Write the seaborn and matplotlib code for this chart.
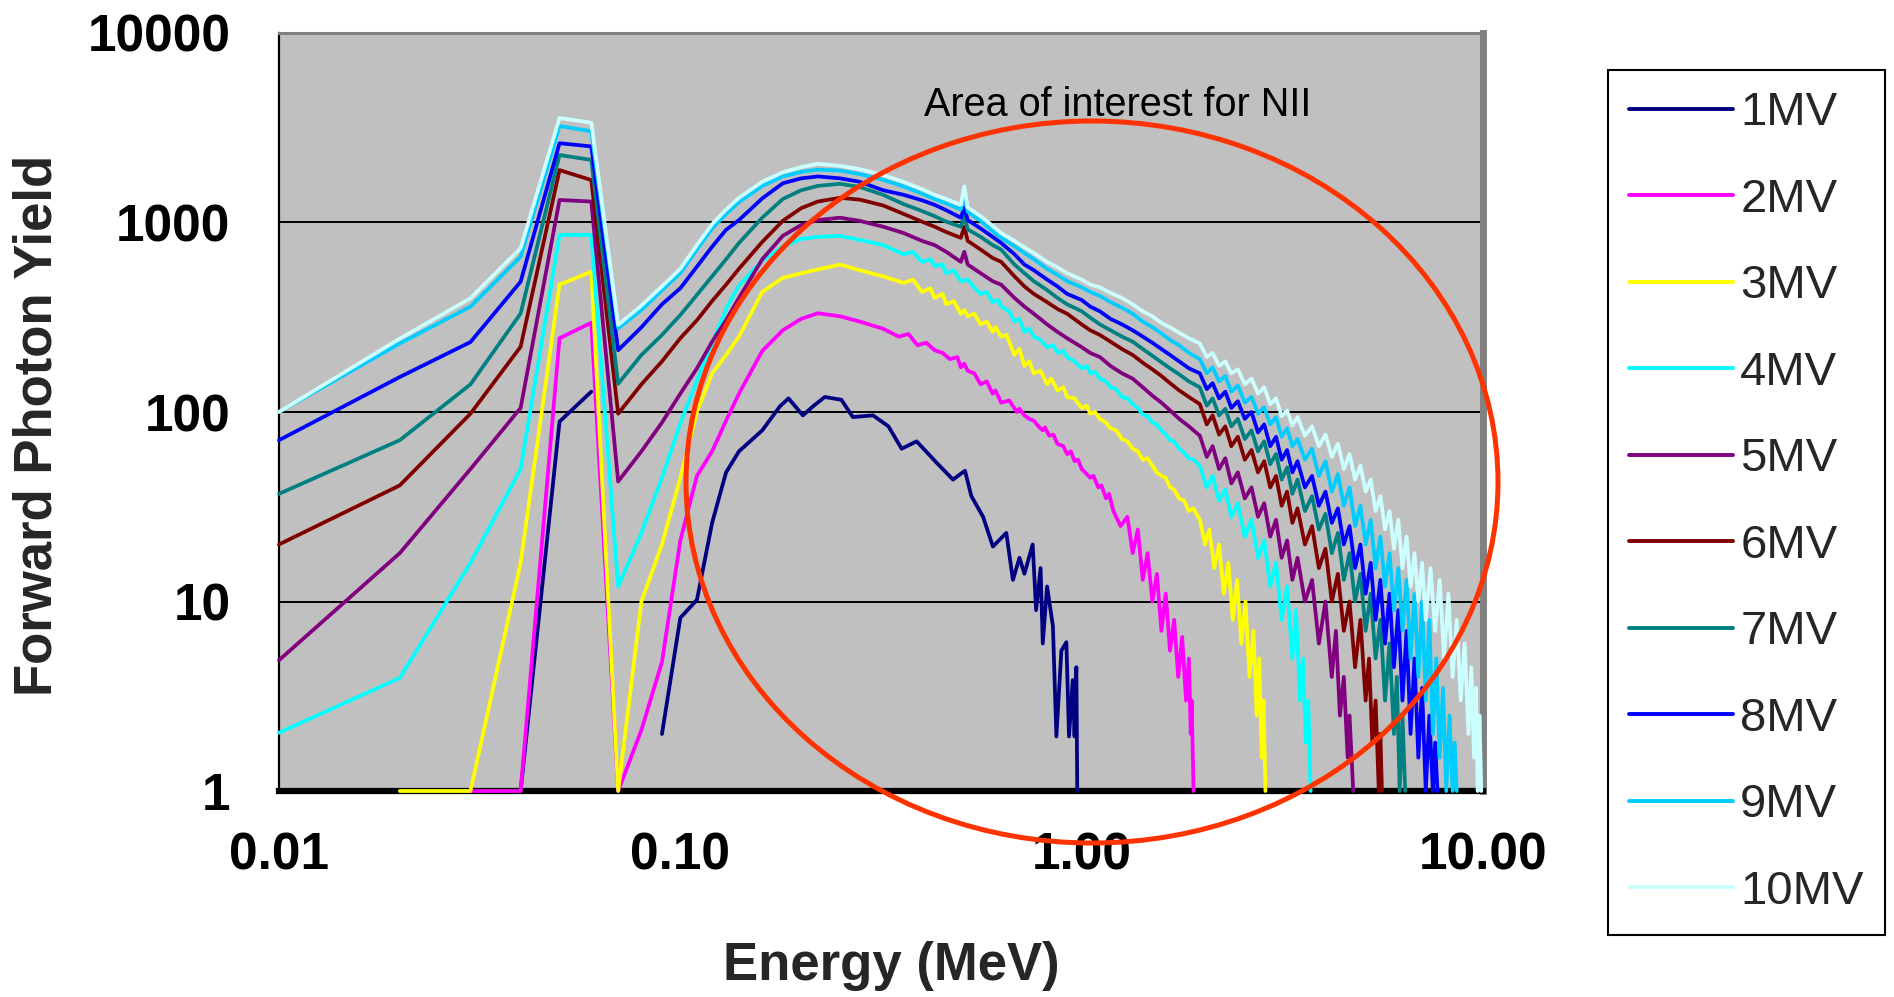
import numpy as np
import pandas as pd
import matplotlib
matplotlib.use("Agg")
import matplotlib.pyplot as plt
import seaborn as sns
from matplotlib.patches import Ellipse
from matplotlib.lines import Line2D
from matplotlib.ticker import NullLocator

# ---------------- data ----------------
series_names = ["1MV", "2MV", "3MV", "4MV", "5MV", "6MV", "7MV", "8MV", "9MV", "10MV"]
series_colors = ["#000080", "#FF00FF", "#FFFF00", "#00FFFF", "#800080",
                 "#800000", "#008080", "#0000FF", "#00CCFF", "#CCFFFF"]

x_ticks = [0.01, 0.1, 1, 10]
x_tick_labels = ["0.01", "0.10", "1.00", "10.00"]
y_ticks = [1, 10, 100, 1000, 10000]
y_tick_labels = ["1", "10", "100", "1000", "10000"]

# (energy MeV, forward photon yield)
mv1_low = [(0.04, 1), (0.05, 89), (0.06, 128)]
mv1_high = [(0.09, 2.0), (0.10, 8.2), (0.11, 10.2), (0.12, 26), (0.13, 48), (0.14, 62), (0.16, 80),
            (0.177, 107), (0.186, 118), (0.202, 96), (0.214, 107), (0.229, 120), (0.252, 116),
            (0.269, 94), (0.302, 96), (0.33, 84), (0.356, 64), (0.388, 70), (0.435, 54), (0.478, 44),
            (0.512, 49), (0.531, 36), (0.568, 28), (0.601, 19.5), (0.649, 23), (0.674, 13), (0.70, 17),
            (0.72, 14), (0.755, 20), (0.77, 9), (0.79, 15), (0.80, 6), (0.82, 12), (0.848, 7.4),
            (0.865, 1.94), (0.89, 5.5), (0.916, 6.1), (0.93, 1.94), (0.95, 3.85), (0.96, 1.94),
            (0.97, 4.5), (0.975, 1)]

mv2 = [(0.03, 1), (0.04, 1), (0.05, 245), (0.06, 296), (0.07, 1),
       (0.08, 2.1), (0.09, 4.8), (0.10, 21), (0.11, 46), (0.12, 62), (0.13, 90), (0.14, 125),
       (0.16, 210), (0.18, 270), (0.20, 310), (0.22, 332), (0.25, 320), (0.28, 300), (0.32, 275),
       (0.35, 250), (0.37, 258), (0.39, 225), (0.41, 232), (0.43, 212), (0.45, 205), (0.47, 190),
       (0.49, 195), (0.50, 172), (0.51, 180), (0.52, 165), (0.54, 160), (0.56, 140), (0.58, 145),
       (0.60, 125), (0.61, 130), (0.63, 112), (0.66, 115), (0.69, 100), (0.70, 104), (0.72, 96),
       (0.74, 92), (0.76, 90), (0.78, 84), (0.80, 80), (0.81, 83), (0.83, 75), (0.85, 76),
       (0.87, 68), (0.90, 66), (0.92, 60), (0.94, 62), (0.96, 55), (0.98, 56), (1.0, 50),
       (1.02, 48), (1.05, 45), (1.07, 46), (1.1, 40), (1.12, 41), (1.15, 35), (1.17, 37), (1.2, 30),
       (1.25, 25), (1.3, 28), (1.34, 18), (1.38, 24), (1.42, 13), (1.46, 18), (1.5, 10), (1.54, 14),
       (1.58, 7), (1.62, 11), (1.66, 5.5), (1.7, 8), (1.74, 4), (1.78, 6.5), (1.82, 3), (1.85, 5),
       (1.87, 2), (1.88, 3), (1.9, 1)]

mv3 = [(0.02, 1), (0.03, 1), (0.04, 16), (0.05, 470), (0.06, 550), (0.07, 1),
       (0.08, 10), (0.09, 20), (0.10, 45), (0.11, 100), (0.12, 160), (0.13, 200), (0.14, 250),
       (0.16, 430), (0.18, 510), (0.20, 540), (0.22, 565), (0.25, 600), (0.28, 560), (0.32, 520),
       (0.36, 480), (0.38, 500), (0.40, 430), (0.42, 450), (0.43, 400), (0.45, 420), (0.46, 370),
       (0.48, 385), (0.50, 330), (0.51, 345), (0.52, 320), (0.54, 330), (0.56, 290), (0.58, 300),
       (0.60, 265), (0.61, 280), (0.63, 250), (0.65, 255), (0.68, 200), (0.70, 215), (0.72, 175),
       (0.74, 185), (0.76, 160), (0.79, 165), (0.82, 140), (0.84, 150), (0.87, 130), (0.90, 135),
       (0.92, 120), (0.96, 118), (1.0, 105), (1.03, 108), (1.05, 98), (1.08, 100), (1.11, 92),
       (1.15, 88), (1.18, 82), (1.22, 80), (1.26, 72), (1.30, 70), (1.34, 64), (1.38, 62),
       (1.42, 56), (1.46, 57), (1.50, 52), (1.54, 48), (1.58, 46), (1.62, 45), (1.66, 40),
       (1.70, 39), (1.75, 35), (1.80, 34), (1.85, 30), (1.90, 31), (1.97, 27),
       (2.03, 20), (2.08, 24), (2.14, 15), (2.2, 20), (2.26, 11), (2.32, 16), (2.38, 8), (2.44, 13),
       (2.5, 6), (2.56, 10), (2.62, 4), (2.68, 7), (2.73, 2.5), (2.77, 5), (2.81, 1.5), (2.84, 3),
       (2.87, 1)]

mv4 = [(0.01, 2.03), (0.02, 3.95), (0.03, 16), (0.04, 50), (0.05, 860), (0.06, 860), (0.07, 12),
       (0.08, 23), (0.09, 45), (0.10, 87), (0.11, 147), (0.12, 230), (0.13, 350), (0.14, 465),
       (0.16, 630), (0.18, 745), (0.20, 820), (0.22, 840), (0.25, 850), (0.28, 810), (0.32, 760),
       (0.36, 680), (0.38, 700), (0.40, 620), (0.42, 640), (0.43, 590), (0.45, 600), (0.46, 540),
       (0.48, 560), (0.50, 490), (0.52, 500), (0.54, 455), (0.56, 420), (0.58, 430), (0.60, 380),
       (0.62, 390), (0.63, 360), (0.66, 340), (0.68, 300), (0.70, 310), (0.72, 265), (0.74, 275),
       (0.76, 250), (0.79, 240), (0.82, 220), (0.85, 225), (0.87, 205), (0.90, 210), (0.92, 195),
       (0.96, 185), (1.0, 170), (1.03, 175), (1.05, 160), (1.08, 163), (1.11, 150), (1.15, 145),
       (1.18, 135), (1.22, 132), (1.26, 120), (1.30, 118), (1.34, 110), (1.38, 105), (1.42, 97),
       (1.46, 95), (1.50, 88), (1.54, 86), (1.58, 80), (1.62, 76), (1.66, 71), (1.70, 70),
       (1.75, 64), (1.80, 61), (1.85, 57), (1.90, 56), (1.97, 52),
       (2.05, 40), (2.12, 46), (2.2, 34), (2.28, 39), (2.36, 28), (2.45, 33), (2.55, 22), (2.65, 27),
       (2.75, 17), (2.85, 21), (2.95, 12), (3.05, 16), (3.15, 8), (3.25, 12), (3.35, 5), (3.42, 9),
       (3.5, 3), (3.56, 5), (3.62, 1.8), (3.67, 3), (3.72, 1)]

mv5 = [(0.01, 4.9), (0.02, 18), (0.03, 50), (0.04, 105), (0.05, 1315), (0.06, 1290), (0.07, 43),
       (0.08, 62), (0.09, 88), (0.10, 125), (0.11, 170), (0.12, 235), (0.13, 305), (0.14, 400),
       (0.16, 640), (0.18, 850), (0.20, 970), (0.22, 1030), (0.25, 1060), (0.28, 1020), (0.32, 950),
       (0.36, 880), (0.40, 800), (0.43, 760), (0.46, 700), (0.50, 620), (0.51, 700), (0.52, 600),
       (0.56, 540), (0.60, 490), (0.63, 470), (0.68, 400), (0.72, 360), (0.76, 330), (0.82, 290),
       (0.87, 265), (0.92, 245), (1.0, 220), (1.05, 205), (1.11, 195), (1.18, 175), (1.26, 160),
       (1.34, 150), (1.42, 135), (1.50, 122), (1.58, 112), (1.66, 102), (1.75, 92), (1.85, 84),
       (1.97, 75), (2.05, 58), (2.12, 66), (2.2, 50), (2.28, 57), (2.36, 42), (2.45, 48), (2.55, 35),
       (2.65, 40), (2.75, 28), (2.85, 33), (2.95, 22), (3.05, 27), (3.15, 17), (3.25, 21), (3.35, 13),
       (3.45, 17), (3.6, 10), (3.75, 13), (3.9, 6), (4.05, 10), (4.2, 4), (4.3, 7), (4.4, 2.5),
       (4.5, 4), (4.6, 1.5), (4.65, 2.5), (4.75, 1)]

mv6 = [(0.01, 20), (0.02, 41), (0.03, 98), (0.04, 221), (0.05, 1890), (0.06, 1675), (0.07, 98),
       (0.08, 140), (0.09, 185), (0.10, 245), (0.11, 305), (0.12, 385), (0.13, 470), (0.14, 570),
       (0.16, 790), (0.18, 1020), (0.20, 1190), (0.22, 1290), (0.25, 1350), (0.28, 1320), (0.32, 1230),
       (0.36, 1110), (0.40, 1010), (0.43, 950), (0.46, 890), (0.50, 830), (0.51, 950), (0.52, 800),
       (0.56, 720), (0.60, 650), (0.63, 620), (0.68, 520), (0.72, 460), (0.76, 420), (0.82, 380),
       (0.87, 350), (0.92, 330), (1.0, 290), (1.05, 270), (1.11, 255), (1.18, 235), (1.26, 215),
       (1.34, 200), (1.42, 182), (1.50, 168), (1.58, 155), (1.66, 142), (1.75, 130), (1.85, 120),
       (1.97, 110), (2.05, 86), (2.12, 96), (2.2, 76), (2.28, 84), (2.36, 66), (2.45, 74), (2.55, 56),
       (2.65, 63), (2.75, 48), (2.85, 55), (2.95, 40), (3.05, 46), (3.15, 32), (3.25, 38), (3.35, 26),
       (3.45, 31), (3.6, 20), (3.75, 25), (3.9, 15), (4.05, 19), (4.2, 10), (4.35, 14), (4.5, 7),
       (4.65, 10), (4.8, 4.5), (4.95, 8), (5.1, 3), (5.2, 5), (5.3, 1.8), (5.4, 3), (5.5, 1),
       (5.55, 2), (5.6, 1)]

mv7 = [(0.01, 37), (0.02, 71), (0.03, 140), (0.04, 331), (0.05, 2270), (0.06, 2140), (0.07, 141),
       (0.08, 200), (0.09, 255), (0.10, 325), (0.11, 415), (0.12, 520), (0.13, 640), (0.14, 780),
       (0.16, 1060), (0.18, 1330), (0.20, 1480), (0.22, 1560), (0.25, 1600), (0.28, 1540), (0.32, 1400),
       (0.36, 1250), (0.40, 1150), (0.43, 1080), (0.46, 1010), (0.50, 950), (0.51, 1080), (0.52, 920),
       (0.56, 840), (0.60, 760), (0.63, 720), (0.68, 600), (0.72, 540), (0.76, 490), (0.82, 440),
       (0.87, 400), (0.92, 370), (1.0, 340), (1.05, 315), (1.11, 290), (1.18, 270), (1.26, 250),
       (1.34, 235), (1.42, 215), (1.50, 198), (1.58, 183), (1.66, 170), (1.75, 158), (1.85, 145),
       (1.97, 135), (2.05, 108), (2.12, 118), (2.2, 96), (2.28, 104), (2.36, 84), (2.45, 92),
       (2.55, 72), (2.65, 80), (2.75, 62), (2.85, 70), (2.95, 53), (3.05, 60), (3.15, 44), (3.25, 51),
       (3.35, 37), (3.45, 44), (3.6, 30), (3.75, 36), (3.9, 24), (4.05, 29), (4.2, 18), (4.35, 23),
       (4.5, 13), (4.65, 18), (4.8, 10), (4.95, 14), (5.1, 7), (5.25, 11), (5.4, 5), (5.55, 8),
       (5.7, 3), (5.85, 6), (6.0, 2), (6.1, 4), (6.2, 1), (6.3, 2.5), (6.4, 1)]

mv8 = [(0.01, 71), (0.02, 153), (0.03, 234), (0.04, 487), (0.05, 2620), (0.06, 2520), (0.07, 212),
       (0.08, 280), (0.09, 370), (0.10, 450), (0.11, 585), (0.12, 745), (0.13, 915), (0.14, 1030),
       (0.16, 1340), (0.18, 1610), (0.20, 1710), (0.22, 1750), (0.25, 1710), (0.28, 1640), (0.32, 1480),
       (0.36, 1400), (0.40, 1310), (0.43, 1240), (0.46, 1160), (0.50, 1060), (0.51, 1200), (0.52, 1030),
       (0.56, 930), (0.60, 840), (0.63, 780), (0.68, 680), (0.72, 600), (0.76, 560), (0.82, 500),
       (0.87, 460), (0.92, 420), (1.0, 390), (1.05, 360), (1.11, 340), (1.18, 310), (1.26, 290),
       (1.34, 270), (1.42, 250), (1.50, 232), (1.58, 215), (1.66, 200), (1.75, 185), (1.85, 170),
       (1.97, 160), (2.05, 132), (2.12, 142), (2.2, 118), (2.28, 128), (2.36, 105), (2.45, 114),
       (2.55, 92), (2.65, 100), (2.75, 78), (2.85, 86), (2.95, 66), (3.05, 74), (3.15, 56), (3.25, 63),
       (3.35, 48), (3.45, 55), (3.6, 40), (3.75, 46), (3.9, 32), (4.05, 38), (4.2, 26), (4.35, 31),
       (4.5, 20), (4.65, 25), (4.8, 15), (4.95, 20), (5.1, 11), (5.25, 16), (5.4, 8), (5.55, 13),
       (5.7, 6), (5.85, 11), (6.0, 4.5), (6.15, 9), (6.3, 3), (6.45, 7), (6.6, 2), (6.75, 5),
       (6.9, 1.5), (7.05, 3.5), (7.2, 1), (7.35, 2.5), (7.5, 1), (7.6, 1.8), (7.7, 1)]

mv9 = [(0.01, 100), (0.02, 230), (0.03, 360), (0.04, 660), (0.05, 3230), (0.06, 3030), (0.07, 277),
       (0.08, 345), (0.09, 440), (0.10, 540), (0.11, 720), (0.12, 930), (0.13, 1110), (0.14, 1280),
       (0.16, 1560), (0.18, 1750), (0.20, 1850), (0.22, 1900), (0.25, 1880), (0.28, 1800), (0.32, 1680),
       (0.36, 1550), (0.40, 1420), (0.43, 1330), (0.46, 1260), (0.50, 1170), (0.51, 1400), (0.52, 1140),
       (0.56, 1020), (0.60, 900), (0.63, 830), (0.68, 750), (0.72, 690), (0.76, 640), (0.82, 570),
       (0.87, 530), (0.92, 490), (1.0, 455), (1.05, 430), (1.11, 410), (1.18, 380), (1.26, 355),
       (1.34, 330), (1.42, 300), (1.50, 280), (1.58, 260), (1.66, 240), (1.75, 225), (1.85, 205),
       (1.97, 190), (2.05, 160), (2.12, 172), (2.2, 145), (2.28, 155), (2.36, 128), (2.45, 138),
       (2.55, 112), (2.65, 120), (2.75, 98), (2.85, 106), (2.95, 86), (3.05, 94), (3.15, 74), (3.25, 82),
       (3.35, 66), (3.45, 72), (3.6, 56), (3.75, 64), (3.9, 46), (4.05, 55), (4.2, 38), (4.35, 47),
       (4.5, 32), (4.65, 40), (4.8, 25), (4.95, 32), (5.1, 20), (5.25, 27), (5.4, 15), (5.55, 22),
       (5.7, 12), (5.85, 18), (6.0, 9), (6.15, 15), (6.3, 7), (6.45, 13), (6.6, 5), (6.75, 11),
       (6.9, 4), (7.05, 10), (7.2, 3), (7.35, 8), (7.5, 2), (7.65, 5), (7.8, 1.5), (7.95, 3.5),
       (8.1, 1), (8.25, 2.5), (8.4, 1), (8.5, 1.8), (8.6, 1)]

mv10 = [(0.01, 100), (0.02, 244), (0.03, 398), (0.04, 731), (0.05, 3560), (0.06, 3360), (0.07, 288),
        (0.08, 365), (0.09, 460), (0.10, 570), (0.11, 760), (0.12, 980), (0.13, 1170), (0.14, 1350),
        (0.16, 1640), (0.18, 1840), (0.20, 1960), (0.22, 2040), (0.25, 1990), (0.28, 1910), (0.32, 1780),
        (0.36, 1640), (0.40, 1500), (0.43, 1400), (0.46, 1330), (0.50, 1240), (0.51, 1550), (0.52, 1200),
        (0.56, 1080), (0.60, 960), (0.63, 880), (0.68, 800), (0.72, 740), (0.76, 690), (0.82, 620),
        (0.87, 580), (0.92, 540), (1.0, 500), (1.05, 470), (1.11, 455), (1.18, 425), (1.26, 400),
        (1.34, 370), (1.42, 340), (1.50, 320), (1.58, 295), (1.66, 280), (1.75, 262), (1.85, 245),
        (1.97, 230), (2.05, 195), (2.12, 205), (2.2, 175), (2.28, 185), (2.36, 160), (2.45, 168),
        (2.55, 140), (2.65, 150), (2.75, 125), (2.85, 135), (2.95, 110), (3.05, 118), (3.15, 95),
        (3.25, 102), (3.35, 85), (3.45, 94), (3.6, 75), (3.75, 84), (3.9, 66), (4.05, 76), (4.2, 58),
        (4.35, 68), (4.5, 50), (4.65, 60), (4.8, 44), (4.95, 52), (5.1, 38), (5.25, 44), (5.4, 30),
        (5.55, 36), (5.7, 24), (5.85, 30), (6.0, 19), (6.15, 27), (6.3, 15), (6.45, 22), (6.6, 12),
        (6.75, 18), (6.9, 10), (7.05, 16), (7.2, 8), (7.4, 15), (7.6, 7), (7.8, 13), (8.0, 5),
        (8.2, 11), (8.4, 4), (8.6, 8), (8.8, 3), (9.0, 6), (9.2, 2), (9.35, 4.5), (9.5, 1.5),
        (9.6, 3.5), (9.7, 1), (9.8, 2.5), (9.9, 1)]

series_segments = [[mv1_low, mv1_high], [mv2], [mv3], [mv4], [mv5],
                   [mv6], [mv7], [mv8], [mv9], [mv10]]

annotation_text = "Area of interest for NII"

# ---------------- build long table ----------------
rows = []
for name, segs in zip(series_names, series_segments):
    for k, seg in enumerate(segs):
        for e, v in seg:
            rows.append((name, f"{name}-{k}", e, v))
df = pd.DataFrame(rows, columns=["series", "segment", "energy", "yield"])

# ---------------- figure ----------------
sns.set_theme(style="white")
plt.rcParams["font.family"] = ["Liberation Sans", "DejaVu Sans"]

W, H = 1894, 997
fig = plt.figure(figsize=(W / 100, H / 100), dpi=100)
fig.patch.set_facecolor("white")
ax_l, ax_r, ax_t, ax_b = 279, 1483, 33, 791
ax = fig.add_axes([ax_l / W, 1 - ax_b / H, (ax_r - ax_l) / W, (ax_b - ax_t) / H])
ax.set_facecolor("#C0C0C0")
ax.set_xscale("log")
ax.set_yscale("log")

for name, color in zip(series_names, series_colors):
    sub = df[df["series"] == name]
    for seg_id, g in sub.groupby("segment", sort=False):
        sns.lineplot(data=g, x="energy", y="yield", color=color, lw=2.7,
                     sort=False, estimator=None, ax=ax, legend=False,
                     zorder=3, clip_on=False)

ax.set_xlim(0.01, 10)
ax.set_ylim(1, 10000)
ax.set_xticks(x_ticks)
ax.set_xticklabels(x_tick_labels)
ax.set_yticks(y_ticks)
ax.set_yticklabels(y_tick_labels)
ax.xaxis.set_minor_locator(NullLocator())
ax.yaxis.set_minor_locator(NullLocator())

ax.tick_params(axis="x", which="major", direction="out", length=13, width=3,
               color="black", pad=16, labelsize=37, labelcolor="black")
ax.tick_params(axis="y", which="major", direction="out", length=11, width=3,
               color="black", pad=24, labelsize=37, labelcolor="black")
for lab in ax.get_xticklabels() + ax.get_yticklabels():
    lab.set_fontweight("bold")

ax.set_axisbelow(True)
ax.yaxis.grid(True, color="black", lw=1.4)
ax.xaxis.grid(False)

ax.spines["left"].set(color="black", lw=1.6)
ax.spines["bottom"].set(color="black", lw=4.5)
ax.spines["top"].set(color="#808080", lw=2.2)
ax.spines["right"].set(color="#808080", lw=5)

ax.set_xlabel("Energy (MeV)", fontsize=38, fontweight="bold", va="center")
ax.set_ylabel("Forward Photon Yield", fontsize=38, fontweight="bold", va="center")
ax.xaxis.set_label_coords((891 - ax_l) / (ax_r - ax_l), (ax_b - 966) / (ax_b - ax_t))
ax.yaxis.set_label_coords((38 - ax_l) / (ax_r - ax_l), (ax_b - 425) / (ax_b - ax_t))

ax.text((1118 - ax_l) / (ax_r - ax_l), (ax_b - 105) / (ax_b - ax_t), annotation_text,
        transform=ax.transAxes, ha="center", va="center", fontsize=28.5, color="black")

ell = Ellipse((1092 / W, 1 - 482 / H), 812 / W, 722 / H, transform=fig.transFigure,
              fill=False, ec="#FF3300", lw=3.6, zorder=10, clip_on=False)
fig.add_artist(ell)

handles = [Line2D([], [], color=c, lw=2.8) for c in series_colors]
leg = fig.legend(handles, series_names, loc="upper left",
                 bbox_to_anchor=(1608 / W, 1 - 70 / H), bbox_transform=fig.transFigure,
                 frameon=True, fancybox=False, edgecolor="black", facecolor="white",
                 framealpha=1, fontsize=34, handlelength=2.2, handletextpad=0.15,
                 labelspacing=0.9, borderpad=0.45, borderaxespad=0)
leg.get_frame().set_linewidth(1.5)

fig.savefig("out.png", dpi=100, facecolor="white")
